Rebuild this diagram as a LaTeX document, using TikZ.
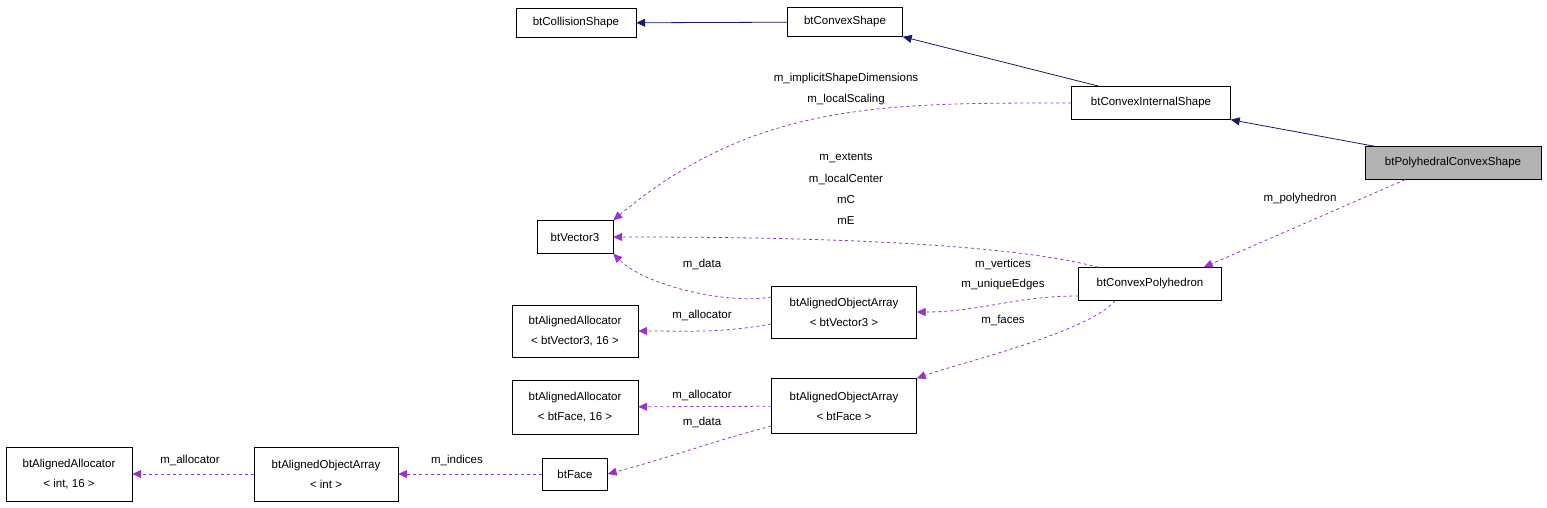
\documentclass[tikz,border=0pt]{standalone}
\usepackage{fontspec}
\setmainfont{Liberation Sans}
\usetikzlibrary{arrows.meta}
\tikzset{
  cls/.style={draw, fill=white, align=center, inner sep=2pt,
    minimum height={#1}, font=\fontsize{11.5}{20}\selectfont},
  cls/.default=29pt,
  inherit/.style={draw={rgb,255:red,25;green,25;blue,112}, thick,
    -{Triangle[width=8pt,length=9pt,fill={rgb,255:red,25;green,25;blue,112}]}},
  member/.style={draw={rgb,255:red,154;green,50;blue,205}, dashed, thick,
    -{Triangle[width=8pt,length=9pt,fill={rgb,255:red,154;green,50;blue,205}]}},
  lbl/.style={font=\fontsize{11.5}{12}\selectfont, inner sep=0pt},
}
\begin{document}
\begin{tikzpicture}[x=1pt, y=-1pt]
  \useasboundingbox (0,0) rectangle (1547,507);
  % classes
  \node [cls, minimum width=120pt] (coll) at (576,23) {btCollisionShape};
  \node [cls, minimum width=115pt] (convex) at (845,22) {btConvexShape};
  \node [cls=33pt, minimum width=159pt] (internal) at (1151,103) {btConvexInternalShape};
  \node [cls=33pt, minimum width=176pt, fill=gray!60] (poly) at (1453,163) {btPolyhedralConvexShape};
  \node [cls=33pt, minimum width=76pt] (vec) at (575,237) {btVector3};
  \node [cls=33pt, minimum width=143pt] (cpoly) at (1150,284) {btConvexPolyhedron};
  \node [cls=52pt, minimum width=145pt] (aovec) at (844,312) {btAlignedObjectArray\\{\textless} btVector3 {\textgreater}};
  \node [cls=52pt, minimum width=126pt] (alvec) at (575,331) {btAlignedAllocator\\{\textless} btVector3, 16 {\textgreater}};
  \node [cls=55pt, minimum width=145pt] (aoface) at (844,406) {btAlignedObjectArray\\{\textless} btFace {\textgreater}};
  \node [cls=54pt, minimum width=126pt] (alface) at (575,407) {btAlignedAllocator\\{\textless} btFace, 16 {\textgreater}};
  \node [cls=32pt, minimum width=65pt] (face) at (575,474) {btFace};
  \node [cls=54pt, minimum width=144pt] (aoint) at (326,474) {btAlignedObjectArray\\{\textless} int {\textgreater}};
  \node [cls=54pt, minimum width=126pt] (alint) at (69,474) {btAlignedAllocator\\{\textless} int, 16 {\textgreater}};

  % inheritance
  \draw [inherit] (convex) -- (coll);
  \draw [inherit] (internal.north west) ++(28,0) coordinate (i1) (i1) -- (convex.south east);
  \draw [inherit] (poly.north west) ++(10,0) coordinate (p1) (p1) -- (internal.south east);

  % members
  \draw [member] (internal.west) to[out=180, in=40] (vec.north east);
  \node [lbl] (l1) at (846,79) {m\_implicitShapeDimensions};
  \node [lbl] (l2) at (846,100) {m\_localScaling};
  \draw [member] (poly.south) ++(-48,0) coordinate (p2) (p2) -- ([xshift=-18pt]cpoly.north east);
  \node [lbl] (l3) at (1300,199) {m\_polyhedron};
  \draw [member] (cpoly.north west) ++(20,0) coordinate (c1) (c1) to[out=165, in=0, looseness=0.6] (vec.east);
  \node [lbl] (l4) at (846,158) {m\_extents};
  \node [lbl] (l5) at (846,179) {m\_localCenter};
  \node [lbl] (l6) at (846,200) {mC};
  \node [lbl] (l7) at (846,221) {mE};
  \draw [member] (cpoly.west) ++(0,12) coordinate (c2) (c2) to[out=180, in=0] (aovec.east);
  \node [lbl] (l8) at (1003,264) {m\_vertices};
  \node [lbl] (l9) at (1003,285) {m\_uniqueEdges};
  \draw [member] (cpoly.south) ++(-35,0) coordinate (c3) (c3) to[out=230, in=20, looseness=0.5] (aovec.east |- aoface.north);
  \node [lbl] (l10) at (1003,320) {m\_faces};
  \draw [member] (aovec.west) ++(0,-15) coordinate (a1) (a1) to[out=190, in=-45, looseness=0.7] (vec.south east);
  \node [lbl] (l11) at (702,264) {m\_data};
  \draw [member] (aovec.west) ++(0,12) coordinate (a2) (a2) to[out=190, in=0] (alvec.east);
  \node [lbl] (l12) at (702,315) {m\_allocator};
  \draw [member] (aoface) -- (alface);
  \node [lbl] (l13) at (702,395) {m\_allocator};
  \draw [member] (aoface.west) ++(0,20) coordinate (a3) (a3) to[out=195, in=15] (face.east);
  \node [lbl] (l14) at (702,422) {m\_data};
  \draw [member] (face) -- (aoint);
  \node [lbl] (l15) at (457,460) {m\_indices};
  \draw [member] (aoint) -- (alint);
  \node [lbl] (l16) at (190,460) {m\_allocator};
\end{tikzpicture}
\end{document}
